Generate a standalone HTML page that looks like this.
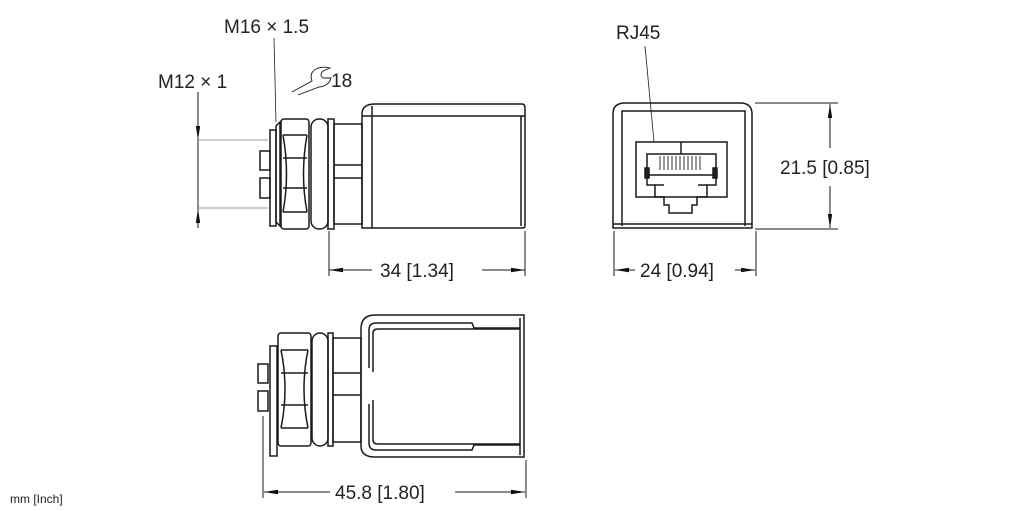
<!DOCTYPE html>
<html><head><meta charset="utf-8"><style>
html,body{margin:0;padding:0;background:#fff;}
svg{display:block;}
text{font-family:"Liberation Sans",sans-serif;fill:#222;}
</style></head><body>
<svg width="1022" height="511" viewBox="0 0 1022 511" xmlns="http://www.w3.org/2000/svg">
<defs>
<marker id="a" markerWidth="14" markerHeight="6" refX="14" refY="3" orient="auto" markerUnits="userSpaceOnUse"><path d="M0,0.8 L14,3 L0,5.2z" fill="#111"/></marker>
</defs>
<g fill="none" stroke="#1a1a1a" stroke-width="1.5">
<!-- TOP VIEW -->
<line x1="198" y1="92" x2="198" y2="140" marker-end="url(#a)" stroke-width="1"/>
<line x1="198" y1="228" x2="198" y2="209" marker-end="url(#a)" stroke-width="1"/>
<line x1="198" y1="140" x2="198" y2="209" stroke-width="1"/>
<line x1="198" y1="140" x2="268" y2="140" stroke="#999" stroke-width="1"/>
<line x1="198" y1="208" x2="268" y2="208" stroke="#999" stroke-width="1"/>
<line x1="274" y1="38" x2="276" y2="122" stroke-width="0.8"/>
<rect x="260" y="151" width="10" height="19"/>
<rect x="260" y="178" width="10" height="20"/>
<rect x="270" y="130" width="6" height="96"/>
<path d="M276,126 L280,122 L280,226 L276,222z"/>
<rect x="281" y="119" width="28" height="110" rx="3"/>
<path d="M283,135 L307,135 M283,158 L307,158 M283,188 L307,188 M283,212 L307,212"/>
<path d="M283,135 Q290,174 283,212 M307,135 Q300,174 307,212"/>
<rect x="311" y="119" width="17" height="110" rx="8"/>
<rect x="328" y="119" width="6" height="110"/>
<rect x="334" y="124" width="28" height="100"/>
<path d="M334,165 L362,165 M334,178 L362,178"/>
<path d="M362,228 L362,114 Q362,104 375,104 L522,104 Q525,104 525,108 L525,226 Q525,228 522,228z"/>
<path d="M372,228 L372,106 M362,116 L525,116 M521,116 L521,226"/>
<line x1="329" y1="231" x2="329" y2="276" stroke-width="1"/>
<line x1="525" y1="231" x2="525" y2="276" stroke-width="1"/>
<line x1="372" y1="270" x2="329" y2="270" marker-end="url(#a)" stroke-width="1"/>
<line x1="482" y1="270" x2="525" y2="270" marker-end="url(#a)" stroke-width="1"/>
<path d="M292,92 L312,81 Q309,73 316,69 Q322,66 330,68 L323,71 Q319,75 323,78 L331,78 Q329,86 319,87 L298,95" stroke-width="0.9"/>

<!-- FRONT VIEW -->
<line x1="645" y1="46" x2="654" y2="142" stroke-width="0.8"/>
<path d="M613,228 L613,114 Q613,103 625,103 L740,103 Q752,103 752,114 L752,228z"/>
<path d="M622,226 L622,111 L745,111 L745,226 M613,224 L752,224"/>
<rect x="636" y="142" width="91" height="55"/>
<path d="M681,142 L681,154"/>
<path d="M647,154 L716,154 L716,185 L707,185 L707,197 L697,197 L697,205 L692,205 L692,213 L669,213 L669,205 L664,205 L664,197 L655,197 L655,185 L647,185z"/>
<path d="M647,175 L716,175"/>
<path d="M655,185 L664,185 M698,185 L707,185"/>
<g stroke-width="0.9"><path d="M660,156 v14 M664,156 v14 M668,156 v14 M672,156 v14 M676,156 v14 M680,156 v14 M684,156 v14 M688,156 v14 M692,156 v14 M696,156 v14 M700,156 v14"/></g>
<rect x="645" y="168" width="4" height="10" fill="#222"/>
<rect x="713" y="168" width="4" height="10" fill="#222"/>
<line x1="755" y1="103" x2="838" y2="103" stroke-width="1"/>
<line x1="755" y1="229" x2="838" y2="229" stroke-width="1"/>
<line x1="830" y1="148" x2="830" y2="104" marker-end="url(#a)" stroke-width="1"/>
<line x1="830" y1="186" x2="830" y2="228" marker-end="url(#a)" stroke-width="1"/>
<line x1="614" y1="231" x2="614" y2="276" stroke-width="1"/>
<line x1="756" y1="231" x2="756" y2="276" stroke-width="1"/>
<line x1="635" y1="270" x2="615" y2="270" marker-end="url(#a)" stroke-width="1"/>
<line x1="735" y1="270" x2="755" y2="270" marker-end="url(#a)" stroke-width="1"/>

<!-- BOTTOM VIEW -->
<rect x="258" y="364" width="10" height="19"/>
<rect x="258" y="391" width="10" height="20"/>
<rect x="270" y="346" width="7" height="110"/>
<rect x="278" y="333" width="33" height="113" rx="3"/>
<path d="M281,350 L308,350 M281,373 L308,373 M281,405 L308,405 M281,428 L308,428"/>
<path d="M281,350 Q289,389 281,428 M308,350 Q300,389 308,428"/>
<rect x="312" y="333" width="16" height="113" rx="8"/>
<rect x="328" y="333" width="5" height="113"/>
<rect x="333" y="338" width="28" height="104"/>
<path d="M333,373 L361,373 M333,395 L361,395"/>
<path d="M361,446 L361,329 Q361,315 375,315 L524,315 L524,457 L375,457 Q361,457 361,446z"/>
<path d="M369,368 L369,330 Q369,323 376,323 L472,323 L474,328 L520,328 M369,404 L369,443 Q369,450 376,450 L472,450 L474,445 L520,445"/>
<path d="M373,372 L373,333 Q373,329 378,329 L520,329 M373,400 L373,440 Q373,444 378,444 L520,444 M520,318 L520,455"/>
<line x1="263" y1="416" x2="263" y2="498" stroke-width="1"/>
<line x1="526" y1="460" x2="526" y2="498" stroke-width="1"/>
<line x1="330" y1="492" x2="264" y2="492" marker-end="url(#a)" stroke-width="1"/>
<line x1="455" y1="492" x2="525" y2="492" marker-end="url(#a)" stroke-width="1"/>
</g>
<text x="224" y="33" font-size="19">M16 × 1.5</text>
<text x="158" y="88" font-size="19">M12 × 1</text>
<text x="331" y="87" font-size="19">18</text>
<text x="380" y="277" font-size="19">34 [1.34]</text>
<text x="640" y="277" font-size="19">24 [0.94]</text>
<text x="616" y="39" font-size="19">RJ45</text>
<text x="780" y="174" font-size="19">21.5 [0.85]</text>
<text x="335" y="499" font-size="19">45.8 [1.80]</text>
<text x="10" y="503" font-size="12">mm [Inch]</text>
</svg>
</body></html>
